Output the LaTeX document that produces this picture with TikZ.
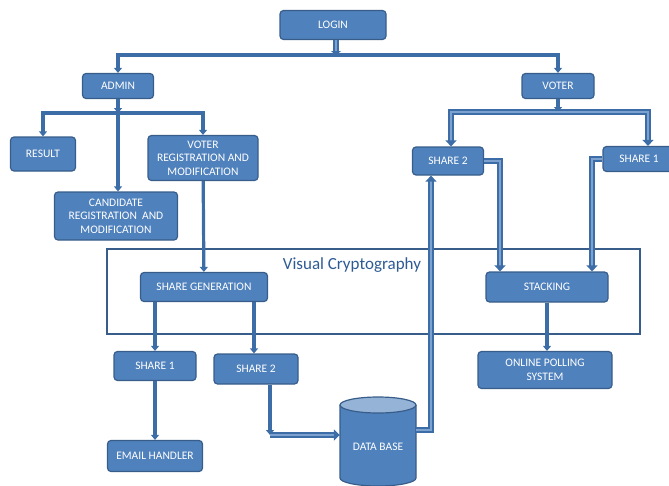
\documentclass[tikz,border=0pt]{standalone}
\usepackage{fontspec}
\setmainfont{Carlito}
\usetikzlibrary{arrows.meta}
\definecolor{boxfill}{HTML}{4F81BD}
\definecolor{boxline}{HTML}{385D8A}
\definecolor{wire}{HTML}{3D6DA6}
\definecolor{wirein}{HTML}{7EA2D0}
\definecolor{dbtop}{HTML}{95B3D7}
\definecolor{vctext}{HTML}{2E5A94}
\begin{document}
\begin{tikzpicture}[x=1pt,y=-1pt,
    box/.style={draw=boxline,fill=boxfill,line width=1.2pt,rounded corners=3.5pt,
      inner sep=0pt,align=center,text=white,font=\fontsize{11.5}{13.5}\selectfont},
    conn/.style={draw=wire,line width=3.2pt,-{Triangle[length=5pt,width=8pt]}},
    dconn/.style={draw=wire,line width=1.8pt,double=wirein,double distance=2.2pt,
      -{Triangle[length=6pt,width=11pt]}}]
  \useasboundingbox (0,0) rectangle (669,485);
  % visual cryptography frame
  \draw[boxline,line width=1.3pt] (107,249) rectangle (640,334);
  \node[text=vctext,font=\fontsize{17}{20}\selectfont] (vclabel) at (352,265) {Visual Cryptography};
  % boxes
  \node[box,minimum width=106,minimum height=29] (login) at (333,25) {LOGIN};
  \node[box,minimum width=71,minimum height=25] (admin) at (118,86) {ADMIN};
  \node[box,minimum width=72,minimum height=25] (voter) at (558,86) {VOTER};
  \node[box,minimum width=65,minimum height=34] (result) at (43,154) {RESULT};
  \node[box,minimum width=110,minimum height=45] (votreg) at (203,158) {VOTER\\REGISTRATION AND\\MODIFICATION};
  \node[box,minimum width=123,minimum height=48] (cand) at (116,216) {CANDIDATE\\REGISTRATION\ \ AND\\MODIFICATION};
  \node[box,minimum width=71,minimum height=28] (sharetwot) at (448,161) {SHARE 2};
  \node[box,minimum width=72,minimum height=25] (shareonet) at (639,159) {SHARE 1};
  \node[box,minimum width=127,minimum height=29] (sharegen) at (204,287) {SHARE GENERATION};
  \node[box,minimum width=122,minimum height=30] (stacking) at (547,287) {STACKING};
  \node[box,minimum width=82,minimum height=29] (shareoneb) at (155,366) {SHARE 1};
  \node[box,minimum width=84,minimum height=30] (sharetwob) at (256,369) {SHARE 2};
  \node[box,minimum width=134,minimum height=37] (online) at (545,370) {ONLINE POLLING\\SYSTEM};
  \node[box,minimum width=95,minimum height=31] (email) at (155,456) {EMAIL HANDLER};
  % data base cylinder
  \draw[boxline,fill=boxfill,line width=1.2pt] (340,405) -- (340,478)
    arc[start angle=180,end angle=360,x radius=38,y radius=-8] -- (416,405);
  \draw[boxline,fill=dbtop,line width=1.2pt] (378,405) ellipse [x radius=38,y radius=8];
  \node[inner sep=0pt,minimum width=76,minimum height=84] (db) at (378,439) {};
  \node[text=white,font=\fontsize{11.5}{13.5}\selectfont] (dblabel) at (378,447) {DATA BASE};
  % bus points
  \coordinate (topbus) at (336,55);
  \coordinate (abus) at (118,113);
  \coordinate (vbus) at (558,112);
  \coordinate (dbin) at (270,435);
  % connectors
  \draw[dconn,-{Triangle[length=4pt,width=10pt]}] (login.south -| topbus) -- (topbus);
  \draw[conn] (topbus) -| (admin.north);
  \draw[conn] (topbus) -| (voter.north);
  \draw[conn] (admin) -- (abus);
  \draw[conn] (abus) -| (result.north);
  \draw[conn] (abus) -- (abus |- cand.north);
  \draw[conn] (abus) -| (votreg.north);
  \draw[conn] (votreg) -- (sharegen);
  \draw[conn] (shareoneb.north |- sharegen.south) -- (shareoneb.north);
  \draw[conn] ([xshift=-2pt]sharetwob.north |- sharegen.south) -- ([xshift=-2pt]sharetwob.north);
  \draw[conn] (shareoneb) -- (email);
  \draw[conn] (sharetwob.south -| dbin) -- (dbin);
  \draw[dconn] (dbin) -- (dbin -| db.west);
  \draw[dconn] (db.east |- 0,430) -| ([xshift=-17pt]sharetwot.south);
  \draw[conn] (voter) -- (vbus);
  \draw[dconn] (vbus) -| ([xshift=3pt]sharetwot.north);
  \draw[dconn] (vbus) -| ([xshift=9pt]shareonet.north);
  \draw[dconn] (sharetwot.east) -| ([xshift=-47pt]stacking.north);
  \draw[dconn] (shareonet.west) -| ([xshift=45pt]stacking.north);
  \draw[conn] (stacking.south) -- (stacking.south |- online.north);
\end{tikzpicture}
\end{document}
